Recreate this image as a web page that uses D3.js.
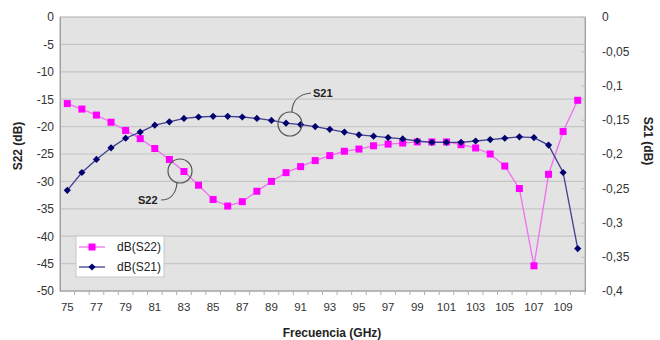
<!DOCTYPE html>
<html>
<head>
<meta charset="utf-8">
<script src="https://cdn.jsdelivr.net/npm/d3@7/dist/d3.min.js"></script>
<style>
html,body{margin:0;padding:0;background:#fff;}
svg{display:block;font-family:"Liberation Sans",Arial,sans-serif;}
</style>
</head>
<body>
<svg id="chart" width="660" height="340"></svg>
<script>
// Data
const freqs = d3.range(75, 111); // 75..110 GHz
const freqLabels = [75,77,79,81,83,85,87,89,91,93,95,97,99,101,103,105,107,109];
const s22 = [-15.8,-16.8,-17.9,-19.2,-20.7,-22.2,-24.0,-26.0,-28.2,-30.7,-33.3,-34.5,-33.7,-31.8,-30.0,-28.4,-27.3,-26.2,-25.3,-24.5,-24.1,-23.5,-23.2,-23.0,-22.8,-22.8,-22.8,-23.3,-23.9,-25.0,-27.2,-31.3,-45.4,-28.7,-20.9,-15.2];
const s21 = [-0.253,-0.227,-0.208,-0.191,-0.177,-0.168,-0.158,-0.153,-0.148,-0.146,-0.145,-0.145,-0.146,-0.148,-0.151,-0.155,-0.157,-0.160,-0.164,-0.168,-0.172,-0.174,-0.176,-0.178,-0.181,-0.183,-0.183,-0.183,-0.181,-0.179,-0.177,-0.175,-0.176,-0.187,-0.227,-0.338];
const leftTicks = [0,-5,-10,-15,-20,-25,-30,-35,-40,-45,-50];
const rightTicks = [0,-0.05,-0.1,-0.15,-0.2,-0.25,-0.3,-0.35,-0.4];

const svg = d3.select("#chart");
const L = 60, R = 585, T = 17, B = 291;

const x = d3.scaleBand().domain(freqs).range([L, R]).padding(0);
const yL = d3.scaleLinear().domain([-50, 0]).range([B, T]);
const yR = d3.scaleLinear().domain([-0.4, 0]).range([B, T]);
const cx = d => x(d) + x.bandwidth() / 2;

// plot background
svg.append("rect").attr("x", L).attr("y", T).attr("width", R - L).attr("height", B - T)
  .attr("fill", "#e3e3e3");

// gridlines
svg.append("g").selectAll("line").data(leftTicks.slice(1, -1)).join("line")
  .attr("x1", L).attr("x2", R).attr("y1", d => yL(d)).attr("y2", d => yL(d))
  .attr("stroke", "#c6c6c6").attr("stroke-width", 1.2);

// border
svg.append("rect").attr("x", L).attr("y", T).attr("width", R - L).attr("height", B - T)
  .attr("fill", "none").attr("stroke", "#b8b8b8").attr("stroke-width", 1.2);

// left axis
const gL = svg.append("g").attr("transform", `translate(${L},0)`)
  .call(d3.axisLeft(yL).tickValues(leftTicks).tickSize(0).tickPadding(6).tickFormat(d => String(d)));
gL.select(".domain").attr("stroke", "#a0a0a0");
gL.selectAll("text").attr("font-size", 12).attr("fill", "#333");

// right axis (ticks pointing inward)
const gR = svg.append("g").attr("transform", `translate(${R},0)`)
  .call(d3.axisRight(yR).tickValues(rightTicks).tickSize(-4).tickPadding(17)
    .tickFormat(d => d === 0 ? "0" : String(d).replace(".", ",")));
gR.select(".domain").attr("stroke", "#a0a0a0");
gR.selectAll("line").attr("stroke", "#c0c0c0");
gR.selectAll("text").attr("font-size", 12).attr("fill", "#333");

// bottom axis: ticks at category boundaries
const gB = svg.append("g");
gB.append("line").attr("x1", L).attr("x2", R).attr("y1", B).attr("y2", B).attr("stroke", "#a0a0a0");
gB.selectAll("line.tk").data(freqs).join("line").attr("class", "tk")
  .attr("x1", d => x(d) + x.bandwidth()).attr("x2", d => x(d) + x.bandwidth())
  .attr("y1", B).attr("y2", B + 4).attr("stroke", "#b0b0b0");
gB.selectAll("text").data(freqLabels).join("text")
  .attr("x", d => cx(d)).attr("y", B + 20).attr("text-anchor", "middle")
  .attr("font-size", 11.5).attr("fill", "#333").text(d => d);

// titles
svg.append("text").attr("x", 332).attr("y", 337).attr("text-anchor", "middle")
  .attr("font-size", 12).attr("font-weight", "bold").attr("fill", "#222").text("Frecuencia (GHz)");
svg.append("text").attr("transform", "translate(22,146) rotate(-90)").attr("text-anchor", "middle")
  .attr("font-size", 12).attr("font-weight", "bold").attr("fill", "#222").text("S22 (dB)");
svg.append("text").attr("transform", "translate(644,141) rotate(90)").attr("text-anchor", "middle")
  .attr("font-size", 12).attr("font-weight", "bold").attr("fill", "#222").text("S21 (dB)");

// series S22
const pink = "#ff00ff";
svg.append("path").datum(freqs.map((f, i) => [f, s22[i]]))
  .attr("fill", "none").attr("stroke", "#f070f0").attr("stroke-width", 1.3)
  .attr("d", d3.line().x(d => cx(d[0])).y(d => yL(d[1])));
svg.append("g").selectAll("rect").data(freqs.map((f, i) => [f, s22[i]])).join("rect")
  .attr("x", d => cx(d[0]) - 3.5).attr("y", d => yL(d[1]) - 3.5)
  .attr("width", 7).attr("height", 7).attr("fill", pink);

// series S21
const navy = "#000070";
svg.append("path").datum(freqs.map((f, i) => [f, s21[i]]))
  .attr("fill", "none").attr("stroke", "#404090").attr("stroke-width", 1.3)
  .attr("d", d3.line().x(d => cx(d[0])).y(d => yR(d[1])));
const diamond = d3.symbol().type(d3.symbolSquare).size(26);
svg.append("g").selectAll("path").data(freqs.map((f, i) => [f, s21[i]])).join("path")
  .attr("transform", d => `translate(${cx(d[0])},${yR(d[1])}) rotate(45)`)
  .attr("d", diamond).attr("fill", navy);

// annotations
const ann = svg.append("g").attr("fill", "none").attr("stroke", "#555").attr("stroke-width", 1.2);
ann.append("circle").attr("cx", 290).attr("cy", 124).attr("r", 12);
ann.append("path").attr("d", "M292,112 C292,100 300,94 311,93");
ann.append("circle").attr("cx", 180).attr("cy", 171).attr("r", 12);
ann.append("path").attr("d", "M161,200 C170,200 176,194 177,183");
svg.append("text").attr("x", 313).attr("y", 97).attr("font-size", 11).attr("font-weight", "bold")
  .attr("fill", "#222").text("S21");
svg.append("text").attr("x", 138).attr("y", 204).attr("font-size", 11).attr("font-weight", "bold")
  .attr("fill", "#222").text("S22");

// legend
const lg = svg.append("g");
lg.append("rect").attr("x", 76).attr("y", 236).attr("width", 88).attr("height", 41)
  .attr("fill", "#fff").attr("stroke", "#c8c8c8");
lg.append("line").attr("x1", 79).attr("x2", 105).attr("y1", 247).attr("y2", 247).attr("stroke", "#f070f0").attr("stroke-width", 1.3);
lg.append("rect").attr("x", 88.5).attr("y", 243.5).attr("width", 7).attr("height", 7).attr("fill", pink);
lg.append("line").attr("x1", 79).attr("x2", 105).attr("y1", 267).attr("y2", 267).attr("stroke", "#404090").attr("stroke-width", 1.3);
lg.append("path").attr("transform", "translate(92,267) rotate(45)").attr("d", diamond).attr("fill", navy);
lg.append("text").attr("x", 117).attr("y", 251).attr("font-size", 12).attr("fill", "#222").text("dB(S22)");
lg.append("text").attr("x", 117).attr("y", 271).attr("font-size", 12).attr("fill", "#222").text("dB(S21)");
</script>
</body>
</html>
